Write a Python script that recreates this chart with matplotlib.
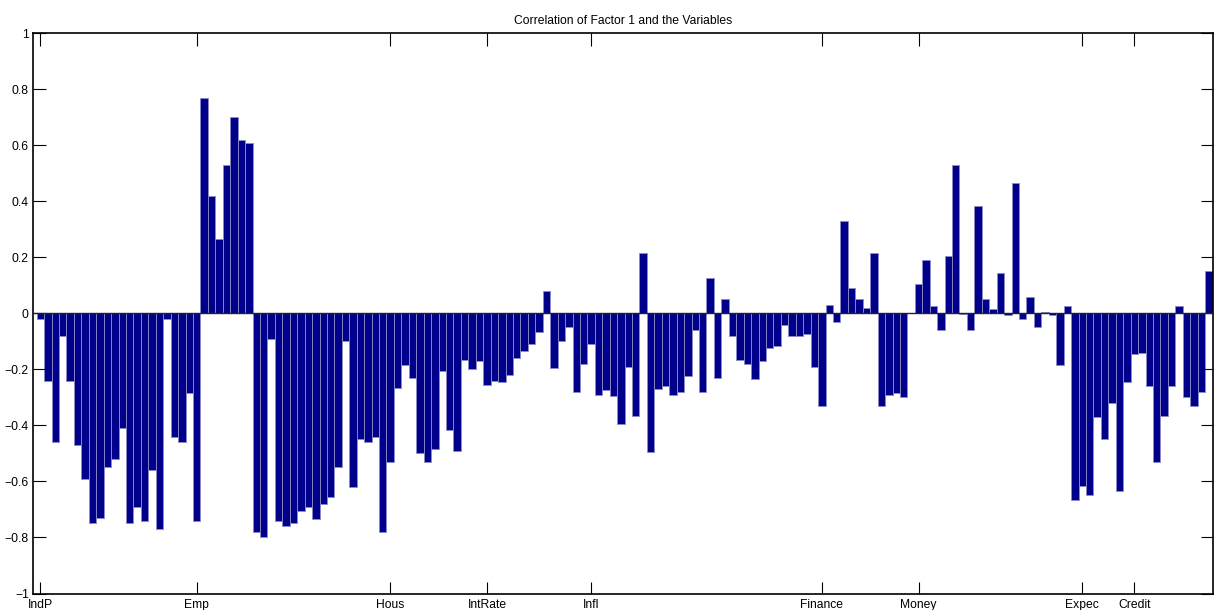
import numpy as np
import matplotlib
matplotlib.use("Agg")
import matplotlib.pyplot as plt

# correlations of factor 1 with each of the 158 series
corr_indp = [-0.02, -0.24, -0.46, -0.08, -0.24, -0.47, -0.59, -0.75, -0.73, -0.55,
             -0.52, -0.41, -0.75, -0.69, -0.74, -0.56, -0.77, -0.02, -0.44, -0.46,
             -0.285]
corr_emp = [-0.74, 0.77, 0.42, 0.265, 0.53, 0.70, 0.62, 0.61, -0.78, -0.80,
            -0.09, -0.74, -0.76, -0.75, -0.705, -0.69, -0.735, -0.68, -0.655, -0.55,
            -0.10, -0.62, -0.45, -0.46, -0.44, -0.78]
corr_hous = [-0.53, -0.265, -0.185, -0.23, -0.50, -0.53, -0.485, -0.205, -0.415, -0.49,
             -0.165, -0.20, -0.17]
corr_intrate = [-0.255, -0.24, -0.245, -0.22, -0.16, -0.135, -0.11, -0.065, 0.08, -0.195,
                -0.10, -0.05, -0.28, -0.18]
corr_infl = [-0.11, -0.29, -0.275, -0.295, -0.395, -0.19, -0.365, 0.215, -0.495, -0.27,
             -0.26, -0.29, -0.28, -0.225, -0.06, -0.28, 0.125, -0.23, 0.05, -0.08,
             -0.165, -0.18, -0.235, -0.17, -0.125, -0.115, -0.04, -0.08, -0.08, -0.075,
             -0.19]
corr_finance = [-0.33, 0.03, -0.03, 0.33, 0.09, 0.05, 0.02, 0.215, -0.33, -0.29,
                -0.285, -0.30, 0.003]
corr_money = [0.105, 0.19, 0.025, -0.06, 0.205, 0.53, -0.003, -0.06, 0.385, 0.05,
              0.015, 0.145, -0.004, 0.465, -0.02, 0.057, -0.05, 0.005, -0.007, -0.185,
              0.025, -0.665]
corr_expec = [-0.615, -0.65, -0.37, -0.45, -0.32, -0.635, -0.245]
corr_credit = [-0.145, -0.14, -0.26, -0.53, -0.365, -0.26, 0.025, -0.30, -0.33, -0.28,
               0.15]

group_labels = ["IndP", "Emp", "Hous", "IntRate", "Infl", "Finance", "Money", "Expec", "Credit"]
group_ticks = [1, 22, 48, 61, 75, 106, 119, 141, 148]

values = (corr_indp + corr_emp + corr_hous + corr_intrate + corr_infl
          + corr_finance + corr_money + corr_expec + corr_credit)
x = np.arange(1, len(values) + 1)

plt.rcParams['font.family'] = ['Liberation Sans', 'DejaVu Sans']

fig = plt.figure(figsize=(12.15, 6.10), dpi=100)
ax = fig.add_axes([33 / 1215, 1 - 593.5 / 610, (1212.5 - 33) / 1215, (593.5 - 33.3) / 610])

ax.bar(x, values, width=1.0, color='#00008b', edgecolor='#8c8cc8', linewidth=0.6)
ax.axhline(0, color='#222222', linewidth=1.0, zorder=3)

ax.set_xlim(0, 158.5)
ax.set_ylim(-1, 1)
ax.set_yticks(np.arange(-1, 1.01, 0.2))
ax.set_yticklabels(["\u22121", "\u22120.8", "\u22120.6", "\u22120.4", "\u22120.2", "0",
                    "0.2", "0.4", "0.6", "0.8", "1"])
ax.set_xticks(group_ticks)
ax.set_xticklabels(group_labels)
ax.tick_params(axis='both', direction='in', length=9, width=0.8, labelsize=8.7,
               top=True, right=True)
ax.tick_params(axis='x', pad=4)
ax.tick_params(axis='y', pad=3)
for s in ax.spines.values():
    s.set_linewidth(1.2)

ax.set_title("Correlation of Factor 1 and the Variables", fontsize=8.7, pad=7)

fig.savefig("out.png", dpi=100)
